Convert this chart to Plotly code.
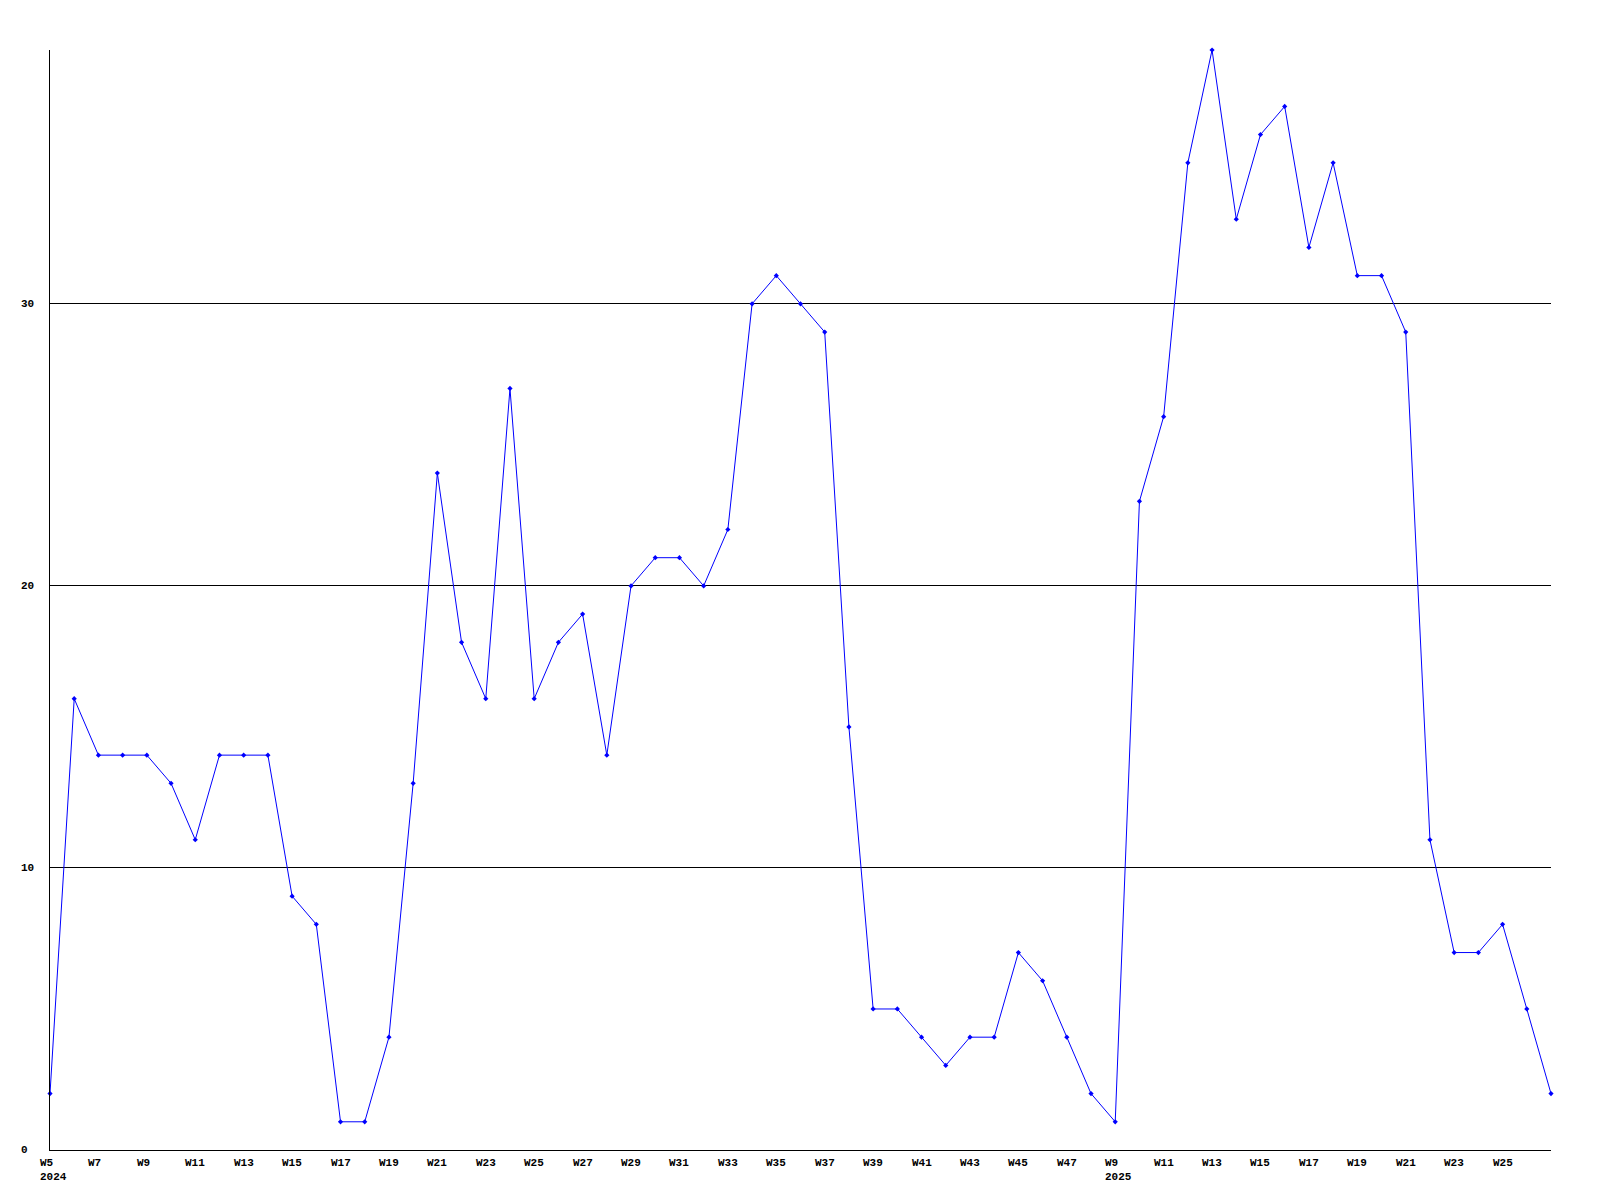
import plotly.graph_objects as go

weeks_2024 = list(range(5, 49))
weeks_2025 = list(range(9, 28))
values_2024 = [2, 16, 14, 14, 14, 13, 11, 14, 14, 14, 9, 8, 1, 1, 4, 13, 24, 18, 16, 27,
               16, 18, 19, 14, 20, 21, 21, 20, 22, 30, 31, 30, 29, 15, 5, 5, 4, 3, 4, 4,
               7, 6, 4, 2]
values_2025 = [1, 23, 26, 35, 39, 33, 36, 37, 32, 35, 31, 31, 29, 11, 7, 7, 8, 5, 2]
y_ticks = [0, 10, 20, 30]

categories = [f"{y}-W{w:02d}" for y, ws in ((2024, weeks_2024), (2025, weeks_2025)) for w in ws]
week_nums = weeks_2024 + weeks_2025
years = [2024] * len(weeks_2024) + [2025] * len(weeks_2025)
values = values_2024 + values_2025

FONT = dict(family="Liberation Mono, DejaVu Sans Mono, monospace", size=11, color="black")

fig = go.Figure()
fig.add_trace(go.Scatter(
    x=categories, y=values, mode="lines+markers",
    line=dict(color="#0000ff", width=1),
    marker=dict(symbol="diamond", size=4, color="#0000ff"),
    cliponaxis=False, hoverinfo="x+y",
))

annotations = []
prev_year = None
for i in range(0, len(categories) - 1, 2):
    txt = f"<b>W{week_nums[i]}</b>"
    if years[i] != prev_year:
        txt += f"<br><b>{years[i]}</b>"
        prev_year = years[i]
    annotations.append(dict(
        x=categories[i], y=0, xref="x", yref="y", text=txt, showarrow=False,
        xanchor="left", yanchor="top", align="left", xshift=-12, yshift=-5,
        font=FONT,
    ))
for v in y_ticks:
    annotations.append(dict(
        x=0, y=v, xref="paper", yref="y", text=f"<b>{v}</b>", showarrow=False,
        xanchor="left", yanchor="middle", xshift=-31, font=FONT,
    ))

fig.update_layout(
    width=1600, height=1200,
    margin=dict(l=42, r=57, t=42, b=58),
    paper_bgcolor="white", plot_bgcolor="white",
    showlegend=False,
    annotations=annotations,
    xaxis=dict(
        type="category", range=[0, len(categories) - 1],
        showgrid=False, showline=True, linecolor="black", linewidth=1,
        showticklabels=False, ticks="", zeroline=False,
    ),
    yaxis=dict(
        range=[0, 39], tickvals=y_ticks, showticklabels=False,
        showgrid=True, gridcolor="black", gridwidth=1,
        showline=True, linecolor="black", linewidth=1, zeroline=False, ticks="",
    ),
)

fig.write_html("out.html")
